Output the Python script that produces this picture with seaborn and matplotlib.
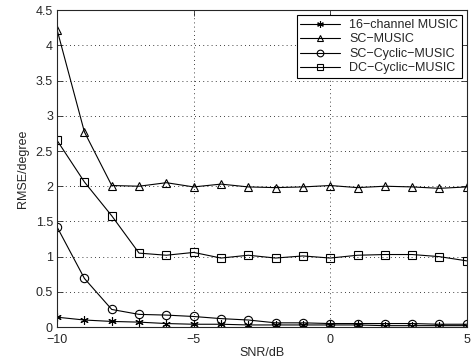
import numpy as np
import pandas as pd
import matplotlib
matplotlib.use("Agg")
import matplotlib.pyplot as plt
import seaborn as sns

# data
snr = list(range(-10, 6))
music16 = [0.14, 0.10, 0.08, 0.07, 0.05, 0.04, 0.04, 0.03, 0.03, 0.03, 0.03, 0.03, 0.02, 0.02, 0.02, 0.02]
sc_music = [4.22, 2.77, 2.01, 2.00, 2.05, 1.99, 2.03, 1.99, 1.98, 1.99, 2.01, 1.98, 2.00, 1.99, 1.97, 1.99]
sc_cyclic = [1.42, 0.69, 0.25, 0.18, 0.17, 0.15, 0.12, 0.10, 0.06, 0.06, 0.05, 0.05, 0.05, 0.05, 0.04, 0.04]
dc_cyclic = [2.65, 2.06, 1.58, 1.05, 1.02, 1.06, 0.98, 1.02, 0.98, 1.01, 0.98, 1.02, 1.03, 1.03, 1.00, 0.94]

names = ["16\u2212channel MUSIC", "SC\u2212MUSIC", "SC\u2212Cyclic\u2212MUSIC", "DC\u2212Cyclic\u2212MUSIC"]
series = [music16, sc_music, sc_cyclic, dc_cyclic]
markers = [(6, 2, 0), "^", "o", "s"]

sns.set_style("ticks")
plt.rcParams["font.family"] = ["Liberation Sans", "DejaVu Sans"]
plt.rcParams["xtick.direction"] = "in"
plt.rcParams["ytick.direction"] = "in"

fig = plt.figure(figsize=(4.72, 3.63), dpi=100)
ax = fig.add_axes([0.121, 0.099, 0.868, 0.873])

for name, vals, m in zip(names, series, markers):
    df = pd.DataFrame({"snr": snr, "rmse": vals})
    sns.lineplot(data=df, x="snr", y="rmse", ax=ax, color="black", lw=0.8,
                 marker=m, markersize=6, markerfacecolor="none",
                 markeredgecolor="black", markeredgewidth=0.8, label=name)

ax.set_xlim(-10, 5)
ax.set_ylim(0, 4.5)
ax.set_xticks([-10, -5, 0, 5])
ax.set_xticklabels(["\u221210", "\u22125", "0", "5"])
ax.set_yticks(np.arange(0, 4.51, 0.5))
ax.set_yticklabels(["0", "0.5", "1", "1.5", "2", "2.5", "3", "3.5", "4", "4.5"])
ax.tick_params(labelsize=9, top=True, right=True, length=4, width=0.6)
ax.tick_params(axis="x", pad=5)
ax.tick_params(axis="y", pad=3)
ax.grid(True, linestyle=(0, (1, 4)), color="black", linewidth=0.6)
for s in ax.spines.values():
    s.set_linewidth(0.8)
ax.set_xlabel("SNR/dB", fontsize=9, labelpad=1)
ax.set_ylabel("RMSE/degree", fontsize=9, labelpad=5)

leg = ax.legend(loc="upper right", fontsize=9, frameon=True, fancybox=False,
                edgecolor="black", framealpha=1, borderpad=0.3, labelspacing=0.2,
                handlelength=3.2, handletextpad=0.7, borderaxespad=0.4, markerscale=0.8)
leg.get_frame().set_linewidth(0.8)

fig.savefig("out.png", dpi=100)
